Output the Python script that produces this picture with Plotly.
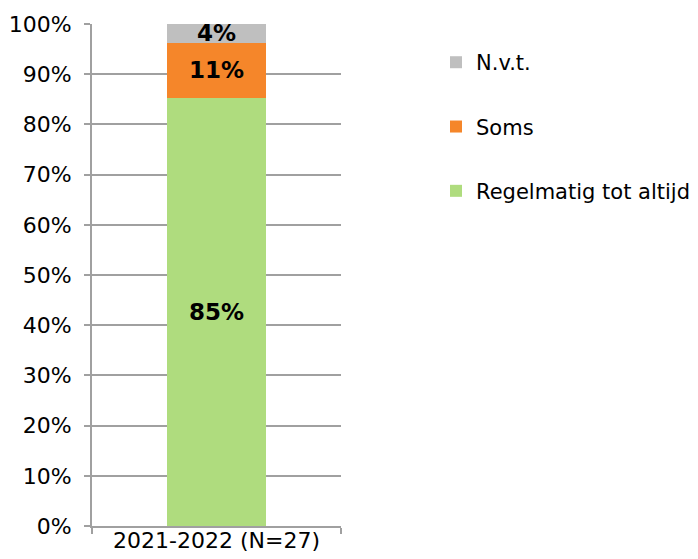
import plotly.graph_objects as go

categories = ["2021-2022 (N=27)"]
series_names = ["Regelmatig tot altijd", "Soms", "N.v.t."]
series_values = [[85.2], [11.1], [3.7]]
series_labels = [["85%"], ["11%"], ["4%"]]
colors = ["#AFDC7E", "#F5862A", "#BFBFBF"]
legend_ranks = [3, 2, 1]
y_ticks = list(range(0, 101, 10))
y_tick_labels = [f"{v}%" for v in y_ticks]

FONT = "Verdana, DejaVu Sans, sans-serif"

fig = go.Figure()
for name, vals, labs, col, rk in zip(series_names, series_values, series_labels, colors, legend_ranks):
    fig.add_trace(go.Bar(
        x=categories, y=vals, name=name, text=labs,
        marker=dict(color=col, line=dict(width=0)),
        textposition="inside", insidetextanchor="middle",
        constraintext="none",
        textfont=dict(family=FONT, size=23, color="black", weight="bold"),
        width=0.4, legendgroup=name, legendrank=rk, hoverinfo="skip",
    ))

fig.update_layout(
    barmode="stack",
    width=698, height=559,
    margin=dict(l=84, r=365, t=16, b=41, autoexpand=False),
    plot_bgcolor="white", paper_bgcolor="white",
    font=dict(family=FONT, size=22, color="black"),
    showlegend=True,
    legend=dict(
        x=1.3815, xanchor="left", y=0.964, yanchor="top",
        traceorder="grouped", tracegroupgap=34,
        font=dict(family=FONT, size=21, color="black"),
        itemwidth=30, bgcolor="rgba(0,0,0,0)",
    ),
    xaxis=dict(
        showline=True, linecolor="#A0A0A0", linewidth=2,
        ticks="outside", tickson="boundaries", ticklen=6,
        tickcolor="#A0A0A0", tickwidth=2, ticklabelstandoff=-6,
        showgrid=False, tickfont=dict(size=22),
    ),
    yaxis=dict(
        range=[0, 100], tickvals=y_ticks, ticktext=y_tick_labels,
        showline=True, linecolor="#A0A0A0", linewidth=2,
        showgrid=True, gridcolor="#A0A0A0", gridwidth=2,
        ticks="outside", ticklen=6, tickcolor="#A0A0A0", tickwidth=2,
        tickfont=dict(size=22), zeroline=False, ticklabelstandoff=8,
    ),
)

fig.write_html("out.html")
